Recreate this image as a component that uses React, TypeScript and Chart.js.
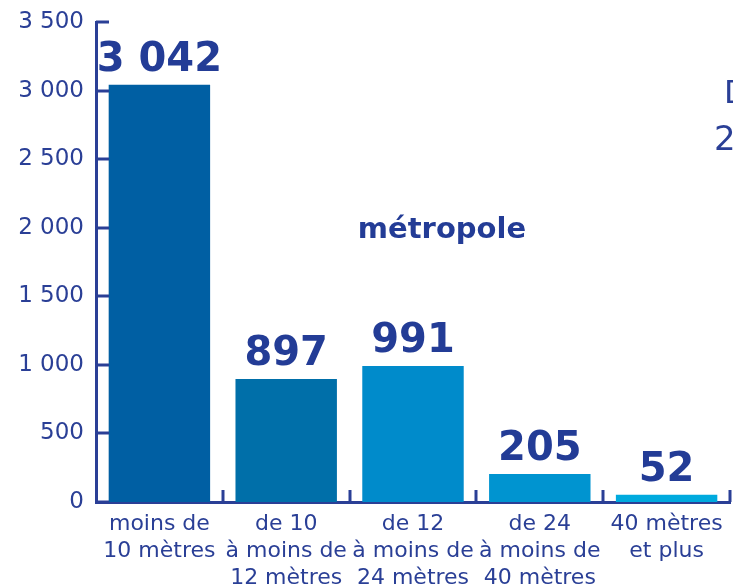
import React, { useEffect, useRef } from "react";
import { Chart, registerables } from "chart.js";

Chart.register(...registerables);

const categories: string[][] = [
  ["moins de", "10 mètres"],
  ["de 10", "à moins de", "12 mètres"],
  ["de 12", "à moins de", "24 mètres"],
  ["de 24", "à moins de", "40 mètres"],
  ["40 mètres", "et plus"],
];
const values: number[] = [3042, 897, 991, 205, 52];
const barColors: string[] = ["#005fa3", "#006fa9", "#008bcb", "#0094d0", "#00aade"];
const valueLabels: string[] = ["3 042", "897", "991", "205", "52"];
const yMax = 3500;
const yStep = 500;
const panelTitle = "métropole";

const NAVY = "#2a3f96";
const LABEL_NAVY = "#233c96";

const fmt = (v: number) => {
  const s = String(Math.round(v));
  return s.replace(/\B(?=(\d{3})+(?!\d))/g, " ");
};

const decoPlugin = {
  id: "deco",
  afterDraw(chart: any) {
    const { ctx, chartArea } = chart;
    const y = chart.scales.y;
    ctx.save();
    ctx.strokeStyle = NAVY;
    ctx.lineWidth = 3;
    // y ticks pointing inward
    for (let v = 0; v <= yMax; v += yStep) {
      const py = Math.round(y.getPixelForValue(v));
      ctx.beginPath();
      ctx.moveTo(chartArea.left, py);
      ctx.lineTo(chartArea.left + 13, py);
      ctx.stroke();
    }
    // x ticks at category boundaries pointing upward
    const n = categories.length;
    const w = (chartArea.right - chartArea.left) / n;
    for (let i = 1; i <= n; i++) {
      const px = Math.round(chartArea.left + i * w);
      ctx.beginPath();
      ctx.moveTo(px, chartArea.bottom);
      ctx.lineTo(px, chartArea.bottom - 12);
      ctx.stroke();
    }
    // value labels
    const meta = chart.getDatasetMeta(0);
    ctx.fillStyle = LABEL_NAVY;
    ctx.font = "bold 40px 'DejaVu Sans'";
    ctx.textAlign = "center";
    ctx.textBaseline = "alphabetic";
    meta.data.forEach((bar: any, i: number) => {
      ctx.fillText(valueLabels[i], bar.x, bar.y - 14);
    });
    // panel title
    ctx.font = "bold 29px 'DejaVu Sans'";
    ctx.fillText(panelTitle, 442, 238);
    // neighbouring panel text, clipped at the right edge
    ctx.textAlign = "left";
    ctx.fillStyle = NAVY;
    ctx.font = "32px 'DejaVu Sans'";
    ctx.fillText("D", 724, 103);
    ctx.font = "34px 'DejaVu Sans'";
    ctx.fillText("2", 714, 150);
    ctx.restore();
  },
};

export default function App() {
  const ref = useRef<HTMLCanvasElement | null>(null);
  useEffect(() => {
    document.body.style.margin = "0";
    const canvas = ref.current;
    if (!canvas) return;
    const chart = new Chart(canvas, {
      type: "bar",
      data: {
        labels: categories,
        datasets: [
          {
            data: values,
            backgroundColor: barColors,
            borderWidth: 0,
            barPercentage: 0.8,
            categoryPercentage: 1,
          },
        ],
      },
      options: {
        animation: false,
        responsive: false,
        devicePixelRatio: 1,
        layout: { padding: { top: 22, right: 3, left: 0, bottom: 0 } },
        plugins: { legend: { display: false }, tooltip: { enabled: false } },
        scales: {
          x: {
            grid: { display: false, drawTicks: false },
            border: { display: true, color: NAVY, width: 3 },
            ticks: {
              color: NAVY,
              padding: 9,
              maxRotation: 0,
              autoSkip: false,
              font: { family: "'DejaVu Sans'", size: 22, lineHeight: 1.23 },
            },
            afterFit: (s: any) => {
              s.height = 84;
              s.paddingLeft = 0;
              s.paddingRight = 0;
            },
          },
          y: {
            min: 0,
            max: yMax,
            grid: { display: false, drawTicks: false },
            border: { display: true, color: NAVY, width: 3 },
            ticks: {
              stepSize: yStep,
              color: NAVY,
              padding: 12,
              font: { family: "'DejaVu Sans'", size: 23 },
              callback: (v: any) => fmt(Number(v)),
            },
            afterFit: (s: any) => {
              s.width = 96;
              s.paddingTop = 0;
              s.paddingBottom = 0;
            },
          },
        },
      },
      plugins: [decoPlugin],
    });
    return () => chart.destroy();
  }, []);
  return (
    <div style={{ width: 733, height: 586, overflow: "hidden" }}>
      <canvas ref={ref} width={733} height={586} style={{ display: "block" }} />
    </div>
  );
}
